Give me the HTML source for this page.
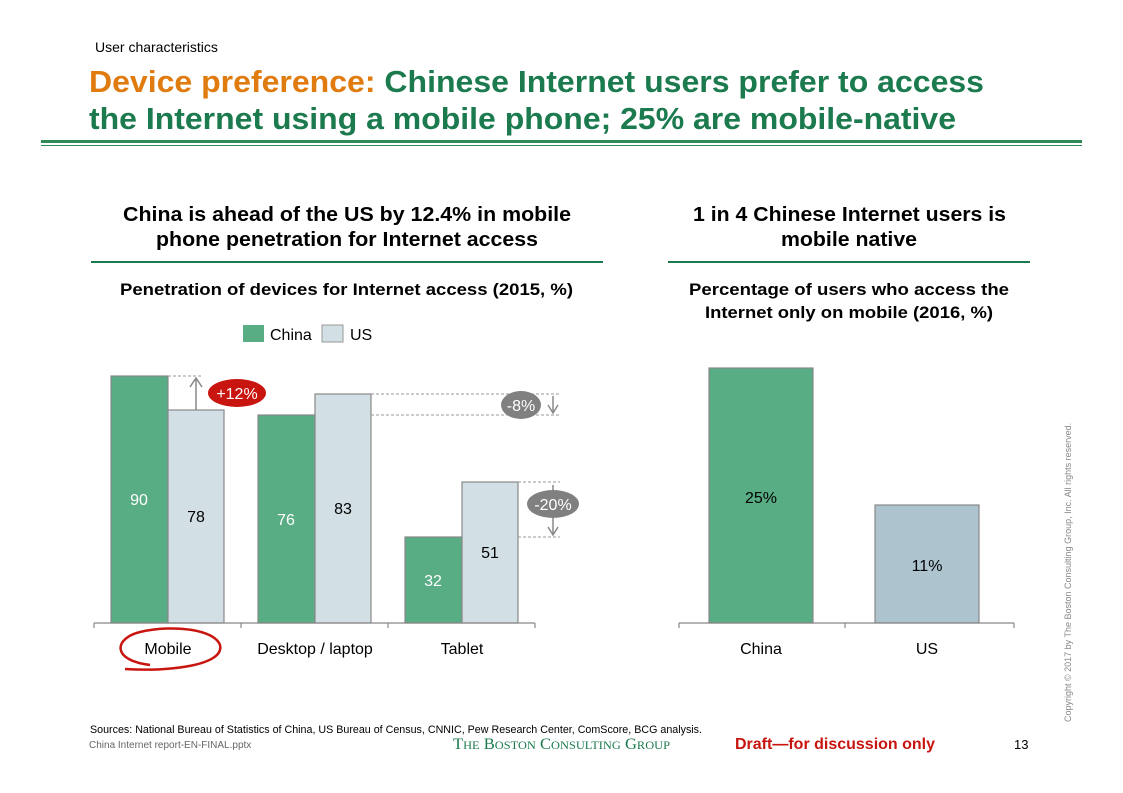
<!DOCTYPE html>
<html><head><meta charset="utf-8"><style>
body{margin:0;background:#fff}
svg{display:block;font-family:"Liberation Sans",Arial,sans-serif}
</style></head><body>
<svg width="1123" height="793" viewBox="0 0 1123 793" xmlns="http://www.w3.org/2000/svg">
<text x="95" y="52" font-size="14" fill="#000">User characteristics</text>
<text x="89" y="92" font-size="31" font-weight="bold" fill="#1b7a4e" textLength="895" lengthAdjust="spacingAndGlyphs"><tspan fill="#e07b10">Device preference:</tspan> Chinese Internet users prefer to access</text>
<text x="89" y="129" font-size="31" font-weight="bold" fill="#1b7a4e" textLength="867" lengthAdjust="spacingAndGlyphs">the Internet using a mobile phone; 25% are mobile-native</text>
<rect x="41" y="140" width="1041" height="3" fill="#2e8b57"/>
<rect x="41" y="145" width="1041" height="1" fill="#2e8b57"/>

<g font-size="20" font-weight="bold">
<text x="123" y="221" textLength="448" lengthAdjust="spacingAndGlyphs">China is ahead of the US by 12.4% in mobile</text>
<text x="156" y="246" textLength="382" lengthAdjust="spacingAndGlyphs">phone penetration for Internet access</text>
<text x="693" y="221" textLength="313" lengthAdjust="spacingAndGlyphs">1 in 4 Chinese Internet users is</text>
<text x="781" y="246" textLength="136" lengthAdjust="spacingAndGlyphs">mobile native</text>
</g>
<rect x="91" y="261" width="512" height="2" fill="#1b7a4e"/>
<rect x="668" y="261" width="362" height="2" fill="#1b7a4e"/>
<g font-size="17" font-weight="bold">
<text x="120" y="295" textLength="453" lengthAdjust="spacingAndGlyphs">Penetration of devices for Internet access (2015, %)</text>
<text x="689" y="295" textLength="320" lengthAdjust="spacingAndGlyphs">Percentage of users who access the</text>
<text x="705" y="318" textLength="288" lengthAdjust="spacingAndGlyphs">Internet only on mobile (2016, %)</text>
</g>
<rect x="243" y="325" width="21" height="17" fill="#59ad84"/>
<text x="270" y="340" font-size="16">China</text>
<rect x="322" y="325" width="21" height="17" fill="#d2dfe4" stroke="#999"/>
<text x="350" y="340" font-size="16">US</text>

<g stroke="#888" stroke-width="1.2">
<rect x="111" y="376" width="57" height="247" fill="#59ad84"/>
<rect x="168" y="410" width="56" height="213" fill="#d2dfe4"/>
<rect x="258" y="415" width="57" height="208" fill="#59ad84"/>
<rect x="315" y="394" width="56" height="229" fill="#d2dfe4"/>
<rect x="405" y="537" width="57" height="86" fill="#59ad84"/>
<rect x="462" y="482" width="56" height="141" fill="#d2dfe4"/>
<line x1="94" y1="623" x2="535" y2="623"/>
<line x1="94" y1="623" x2="94" y2="628"/><line x1="241" y1="623" x2="241" y2="628"/>
<line x1="388" y1="623" x2="388" y2="628"/><line x1="535" y1="623" x2="535" y2="628"/>
<rect x="709" y="368" width="104" height="255" fill="#59ad84"/>
<rect x="875" y="505" width="104" height="118" fill="#adc4cf"/>
<line x1="679" y1="623" x2="1014" y2="623"/>
<line x1="679" y1="623" x2="679" y2="628"/><line x1="845" y1="623" x2="845" y2="628"/><line x1="1014" y1="623" x2="1014" y2="628"/>
</g>
<g stroke="#999" stroke-dasharray="3,2" stroke-width="1">
<line x1="168" y1="376" x2="203" y2="376"/>
<line x1="371" y1="394" x2="560" y2="394"/>
<line x1="371" y1="415" x2="560" y2="415"/>
<line x1="518" y1="482" x2="560" y2="482"/>
<line x1="518" y1="537" x2="560" y2="537"/>
</g>
<g stroke="#888" stroke-width="1.5" fill="none">
<line x1="196" y1="410" x2="196" y2="379"/><polyline points="190,387 196,378 202,387"/>
<line x1="553" y1="396" x2="553" y2="413"/><polyline points="548,405 553,413 558,405"/>
<line x1="553" y1="485" x2="553" y2="535"/><polyline points="548,527 553,535 558,527"/>
</g>
<ellipse cx="237" cy="393" rx="29" ry="14" fill="#c8150f"/>
<text x="237" y="399" font-size="16" fill="#fff" text-anchor="middle">+12%</text>
<ellipse cx="521" cy="405" rx="20" ry="14" fill="#808080"/>
<text x="521" y="411" font-size="16" fill="#fff" text-anchor="middle">-8%</text>
<ellipse cx="553" cy="504" rx="26" ry="14" fill="#808080"/>
<text x="553" y="510" font-size="16" fill="#fff" text-anchor="middle">-20%</text>

<g font-size="16" text-anchor="middle">
<text x="139" y="505" fill="#fff">90</text>
<text x="196" y="522">78</text>
<text x="286" y="525" fill="#fff">76</text>
<text x="343" y="514">83</text>
<text x="433" y="586" fill="#fff">32</text>
<text x="490" y="558">51</text>
<text x="761" y="503">25%</text>
<text x="927" y="571">11%</text>
<text x="168" y="654">Mobile</text>
<text x="315" y="654">Desktop / laptop</text>
<text x="462" y="654">Tablet</text>
<text x="761" y="654">China</text>
<text x="927" y="654">US</text>
</g>
<path d="M150,665 C110,660 115,638 140,632 C175,624 215,630 220,645 C225,665 170,672 125,669" fill="none" stroke="#c8150f" stroke-width="2.5"/>

<text x="90" y="733" font-size="11" textLength="612" lengthAdjust="spacingAndGlyphs">Sources: National Bureau of Statistics of China, US Bureau of Census, CNNIC, Pew Research Center, ComScore, BCG analysis.</text>
<text x="89" y="748" font-size="10" fill="#666">China Internet report-EN-FINAL.pptx</text>
<text x="453" y="749" font-size="16" fill="#1b7a4e" font-family="Liberation Serif,serif" textLength="217" lengthAdjust="spacingAndGlyphs">T<tspan font-size="12">HE</tspan> B<tspan font-size="12">OSTON</tspan> C<tspan font-size="12">ONSULTING</tspan> G<tspan font-size="12">ROUP</tspan></text>
<text x="735" y="749" font-size="16" font-weight="bold" fill="#c8150f">Draft—for discussion only</text>
<text x="1014" y="749" font-size="13">13</text>
<text transform="translate(1071,722) rotate(-90)" font-size="9" fill="#888">Copyright © 2017 by The Boston Consulting Group, Inc. All rights reserved.</text>
</svg>
</body></html>
